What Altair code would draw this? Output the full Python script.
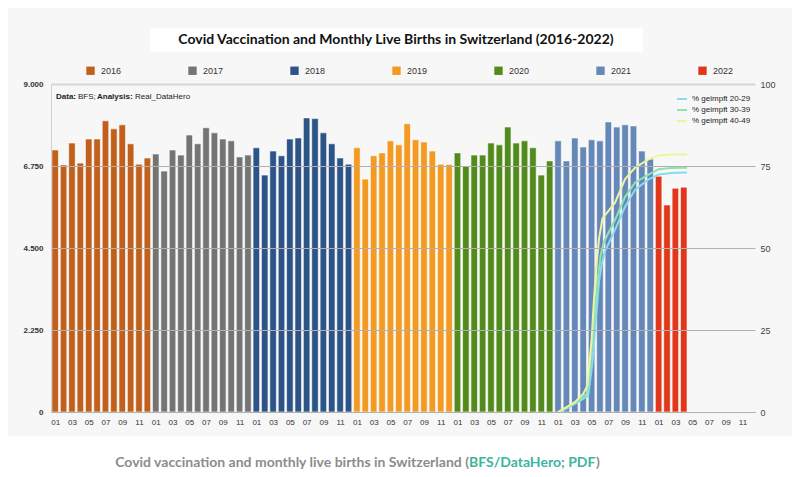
import altair as alt
import pandas as pd

# ---------------- data ----------------
years = ["2016", "2017", "2018", "2019", "2020", "2021", "2022"]
year_colors = ["#c0601c", "#747474", "#2c5486", "#f29a22", "#528a1c", "#6588b8", "#e2361a"]

births_2016 = [7190, 6780, 7380, 6830, 7490, 7490, 7990, 7770, 7880, 7360, 6800, 6970]
births_2017 = [7080, 6610, 7190, 7050, 7600, 7360, 7800, 7660, 7490, 7440, 7000, 7050]
births_2018 = [7250, 6500, 7160, 7030, 7490, 7520, 8070, 8050, 7660, 7360, 6970, 6800]
births_2019 = [7250, 6390, 7030, 7110, 7440, 7330, 7910, 7470, 7410, 7160, 6800, 6790]
births_2020 = [7110, 6750, 7050, 7050, 7380, 7330, 7820, 7380, 7440, 7250, 6500, 6890]
births_2021 = [7440, 6890, 7520, 7270, 7470, 7440, 7960, 7820, 7880, 7850, 7160, 6940]
births_2022 = [6470, 5680, 6140, 6170]
births = [births_2016, births_2017, births_2018, births_2019, births_2020, births_2021, births_2022]

# vaccination share (%), x = month index since Jan 2016 (fractional)
vac_groups = ["% geimpft 20-29", "% geimpft 30-39", "% geimpft 40-49"]
vac_colors = ["#86dcf2", "#8fe3ab", "#eef3a0"]
vac_t_2029 = [60, 61, 62, 63, 63.6, 64.1, 64.5, 64.9, 65.2, 65.6, 66.8, 68.0, 69.2, 70.8, 72.0, 73.5, 75.4]
vac_2029 = [0, 1, 2.5, 4, 5, 15, 28, 40, 45, 49, 55.5, 62.6, 67.8, 70.9, 72.4, 72.9, 73]
vac_t_3039 = [60, 61, 62, 63, 63.5, 64.0, 64.4, 64.8, 65.1, 65.5, 66.8, 68.0, 69.2, 70.8, 72.0, 73.5, 75.4]
vac_3039 = [0, 1.2, 2.8, 4.5, 6, 18, 32, 42, 48, 52, 58.6, 65.6, 70, 72.4, 74, 74.4, 74.5]
vac_t_4049 = [60, 61, 62, 63, 63.5, 64.0, 64.3, 64.6, 64.9, 65.3, 66.8, 68.0, 69.2, 70.8, 72.0, 73.5, 75.4]
vac_4049 = [0, 1.5, 3, 5.5, 8, 22, 35, 45, 53, 59, 63.8, 71, 74.5, 77, 78.2, 78.5, 78.5]

left_ticks = [0, 2250, 4500, 6750, 9000]
right_ticks = [0, 25, 50, 75, 100]
month_ticks = list(range(0, 84, 2))

title_text = "Covid Vaccination and Monthly Live Births in Switzerland (2016-2022)"
caption_1 = "Covid vaccination and monthly live births in Switzerland ("
caption_2 = "BFS/DataHero; PDF"
caption_3 = ")"

# ---------------- tables ----------------
rows = []
for yi, (yr, vals) in enumerate(zip(years, births)):
    for m, v in enumerate(vals):
        rows.append({"t": yi * 12 + m, "year": yr, "births": v})
bdf = pd.DataFrame(rows)

vrows = []
for g, ts, vs in zip(vac_groups, [vac_t_2029, vac_t_3039, vac_t_4049], [vac_2029, vac_3039, vac_4049]):
    for t, v in zip(ts, vs):
        vrows.append({"t": t, "group": g, "pct": v})
vdf = pd.DataFrame(vrows)

one = alt.Data(values=[{"a": 1}])

W, H = 704, 328
xscale = alt.Scale(domain=[-0.5, 83.5], nice=False, zero=False)
LF = "Liberation Sans"

xaxis = alt.Axis(
    values=month_ticks, title=None, grid=False, ticks=False,
    domainColor="#9a9a9a", labelFontSize=8, labelColor="#333", labelFont=LF,
    labelPadding=6, labelFlush=False,
    labelExpr="((datum.value % 12) + 1) < 10 ? '0' + ((datum.value % 12) + 1) : '' + ((datum.value % 12) + 1)")

bars = alt.Chart(bdf).transform_calculate(
    x0="datum.t - 0.39", x1="datum.t + 0.39"
).mark_bar(stroke="white", strokeWidth=0.6).encode(
    x=alt.X("x0:Q", scale=xscale, axis=xaxis),
    x2="x1:Q",
    y=alt.Y("births:Q", scale=alt.Scale(domain=[0, 9000], nice=False), axis=alt.Axis(
        orient="left", values=left_ticks, title=None, ticks=False,
        domainColor="#cfcfcf", labelFontSize=8, labelFontWeight="bold", labelColor="#333",
        labelFont=LF, labelPadding=8, zindex=1,
        gridColor=alt.condition("datum.value === 9000", alt.value("#d6d6d6"), alt.value("#b0b0b0")),
        gridWidth=alt.condition("datum.value === 9000", alt.value(2), alt.value(1)),
        labelExpr="replace(format(datum.value, ',.0f'), ',', '.')")),
    y2=alt.datum(0),
    fill=alt.Fill("year:N", scale=alt.Scale(domain=years, range=year_colors), legend=alt.Legend(
        title=None, orient="none", direction="horizontal", columns=7, legendX=35, legendY=-18,
        symbolType="square", symbolSize=70, symbolStrokeWidth=0, labelFontSize=9, labelFont=LF,
        labelColor="#333", columnPadding=66, labelOffset=6)),
)

lines = alt.Chart(vdf).mark_line(strokeWidth=2).encode(
    x=alt.X("t:Q", scale=xscale, axis=xaxis),
    y=alt.Y("pct:Q", scale=alt.Scale(domain=[0, 100], nice=False), axis=alt.Axis(
        orient="right", values=right_ticks, title=None, ticks=False, domain=False, grid=False,
        labelFontSize=9, labelColor="#444", labelFont=LF, labelPadding=5)),
    stroke=alt.Stroke("group:N", scale=alt.Scale(domain=vac_groups, range=vac_colors), legend=alt.Legend(
        title=None, orient="none", legendX=625, legendY=9, symbolType="stroke", symbolSize=100,
        symbolStrokeWidth=2, labelFontSize=8, labelFont=LF, labelColor="#222", rowPadding=1)),
)

bottom_white = alt.Chart(one).mark_rect(fill="white").encode(
    x=alt.value(-60), x2=alt.value(760), y=alt.value(352), y2=alt.value(400))
title_box = alt.Chart(one).mark_rect(fill="white").encode(
    x=alt.value(99), x2=alt.value(592), y=alt.value(-56), y2=alt.value(-32))
title = alt.Chart(one).mark_text(text=title_text, font="Lato", fontSize=14, fontWeight="bold",
                                 color="#111", align="center", baseline="middle").encode(
    x=alt.value(345), y=alt.value(-44))

def txt(s, x, y, bold=False, size=8, color="#222", align="left", font=LF):
    return alt.Chart(one).mark_text(text=s, font=font, fontSize=size,
                                    fontWeight="bold" if bold else "normal",
                                    color=color, align=align, baseline="middle").encode(
        x=alt.value(x), y=alt.value(y))

src = [txt("Data:", 5, 13, True), txt("BFS;", 27, 13), txt("Analysis:", 46, 13, True),
       txt("Real_DataHero", 84, 13)]

cap = [txt(caption_1, 418, 379, True, 14, "#8c8c8c", "right", "Lato"),
       txt(caption_2, 418, 379, True, 14, "#3bb5a0", "left", "Lato"),
       txt(caption_3, 545, 379, True, 14, "#8c8c8c", "left", "Lato")]

chart = alt.layer(bottom_white, title_box, bars, lines, title, *src, *cap).resolve_scale(
    y="independent"
).properties(
    width=W, height=H,
    background="#f7f7f7",
    padding={"left": 43, "top": 76, "right": 37, "bottom": 57},
    autosize=alt.AutoSizeParams(type="none"),
).configure_view(strokeWidth=0)

chart.save("out.html", embed_options={"renderer": "svg", "actions": False})
